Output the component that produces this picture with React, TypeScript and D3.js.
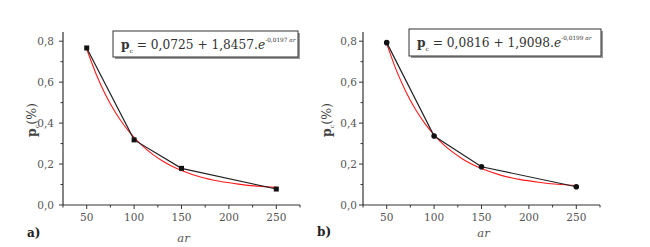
import React from "react";
import * as d3 from "d3";

const xData = [50, 100, 150, 250];
const seriesA = [0.767, 0.318, 0.179, 0.078];
const seriesB = [0.793, 0.337, 0.187, 0.089];

const fitX = [50, 60, 70, 80, 90, 100, 110, 120, 130, 140, 150, 170, 190, 210, 230, 250];
const fitA = [0.762, 0.639, 0.537, 0.454, 0.386, 0.33, 0.284, 0.246, 0.215, 0.189, 0.169, 0.137, 0.116, 0.102, 0.092, 0.086];
const fitB = [0.788, 0.66, 0.556, 0.47, 0.4, 0.343, 0.295, 0.257, 0.225, 0.199, 0.178, 0.146, 0.125, 0.111, 0.101, 0.095];

const xMajor = [50, 100, 150, 200, 250];
const xMinor = [25, 75, 125, 175, 225, 275];
const yMajor = [0, 0.2, 0.4, 0.6, 0.8];
const yMinor = [0.1, 0.3, 0.5, 0.7];

const eqA = { a: "0,0725", b: "1,8457", k: "-0,0197" };
const eqB = { a: "0,0816", b: "1,9098", k: "-0,0199" };

const FONT = '"DejaVu Serif", "Liberation Serif", serif';
const GREY = "#555";

type PanelProps = {
  ox: number;
  series: number[];
  fit: number[];
  eq: { a: string; b: string; k: string };
  label: string;
  labelX: number;
  labelY: number;
  titleY: number;
  yLabX: number;
  yTickEnd: number;
  box: [number, number, number, number];
  marker: "square" | "circle";
};

function Panel(p: PanelProps) {
  const x = d3.scaleLinear().domain([25, 275]).range([p.ox + 63, p.ox + 300]);
  const y = d3.scaleLinear().domain([0, 0.845]).range([205, 32]);
  const line = d3
    .line<number>()
    .x((_, i) => x(xData[i]))
    .y((d) => y(d));
  const fitLine = d3
    .line<number>()
    .x((_, i) => x(fitX[i]))
    .y((d) => y(d))
    .curve(d3.curveMonotoneX);
  const [bx, by, bw, bh] = p.box;
  const x0 = x.range()[0];
  const x1 = x.range()[1];
  return (
    <g style={{ fontFamily: FONT }}>
      <line x1={x0} x2={x0} y1={32} y2={205} stroke="#333" strokeWidth={1.2} />
      <line x1={x0} x2={x1} y1={205} y2={205} stroke="#333" strokeWidth={1.2} />
      {xMajor.map((v) => (
        <g key={"xm" + v}>
          <line x1={x(v)} x2={x(v)} y1={205} y2={209} stroke="#333" />
          <text x={x(v)} y={221} textAnchor="middle" fontSize={10.5} fill={GREY}>
            {v}
          </text>
        </g>
      ))}
      {xMinor.map((v) => (
        <line key={"xn" + v} x1={x(v)} x2={x(v)} y1={205} y2={207.5} stroke="#333" />
      ))}
      {yMajor.map((v) => (
        <g key={"ym" + v}>
          <line x1={x0 - 4} x2={x0} y1={y(v)} y2={y(v)} stroke="#333" />
          <text x={p.yTickEnd} y={y(v) + 4} textAnchor="end" fontSize={10.5} fill={GREY}>
            {d3.format(".1f")(v).replace(".", ",")}
          </text>
        </g>
      ))}
      {yMinor.map((v) => (
        <line key={"yn" + v} x1={x0 - 2.5} x2={x0} y1={y(v)} y2={y(v)} stroke="#333" />
      ))}
      <path d={fitLine(p.fit) || ""} fill="none" stroke="#ff1a1a" strokeWidth={1.1} />
      <path d={line(p.series) || ""} fill="none" stroke="#222" strokeWidth={1.2} />
      {p.series.map((v, i) =>
        p.marker === "square" ? (
          <rect key={i} x={x(xData[i]) - 2.5} y={y(v) - 2.5} width={5} height={5} fill="#111" />
        ) : (
          <circle key={i} cx={x(xData[i])} cy={y(v)} r={2.8} fill="#111" />
        )
      )}
      <rect x={bx + 2} y={by + 2} width={bw} height={bh} fill="#999" />
      <rect x={bx} y={by} width={bw} height={bh} fill="#fff" stroke="#333" strokeWidth={1} />
      <text x={bx + 8} y={by + 18} fontSize={12.2} fill="#333">
        <tspan fontWeight="bold">p</tspan>
        <tspan fontSize={6} dy={4}>c</tspan>
        <tspan dy={-4}>{` = ${p.eq.a} + ${p.eq.b}.`}</tspan>
        <tspan fontStyle="italic">e</tspan>
        <tspan fontSize={5.8} dy={-7}>{p.eq.k + " "}</tspan>
        <tspan fontSize={5.8} fontStyle="italic">ar</tspan>
      </text>
      <text x={(x0 + x1) / 2 + 2} y={p.titleY} textAnchor="middle" fontSize={11.5} fontStyle="italic" fill={GREY}>
        ar
      </text>
      <text
        transform={`translate(${p.yLabX},120) rotate(-90)`}
        textAnchor="middle"
        fontSize={12.5}
        fill="#444"
      >
        <tspan fontWeight="bold">p</tspan>
        <tspan fontSize={6} dy={3}>c</tspan>
        <tspan dy={-3}>(%)</tspan>
      </text>
      <text x={p.labelX} y={p.labelY} fontSize={12} fontWeight="bold" fill="#222">
        {p.label}
      </text>
    </g>
  );
}

export default function App() {
  return (
    <svg width={650} height={247} style={{ position: "absolute", left: 0, top: 0, background: "#fff" }}>
      <rect width={650} height={247} fill="#fff" />
      <Panel
        ox={0}
        series={seriesA}
        fit={fitA}
        eq={eqA}
        label="a)"
        labelX={27}
        labelY={237}
        titleY={242}
        yLabX={36}
        yTickEnd={54}
        box={[113, 31, 185, 26]}
        marker="square"
      />
      <Panel
        ox={300}
        series={seriesB}
        fit={fitB}
        eq={eqB}
        label="b)"
        labelX={317}
        labelY={236}
        titleY={237}
        yLabX={331}
        yTickEnd={357}
        box={[409, 29, 192, 27]}
        marker="circle"
      />
    </svg>
  );
}
